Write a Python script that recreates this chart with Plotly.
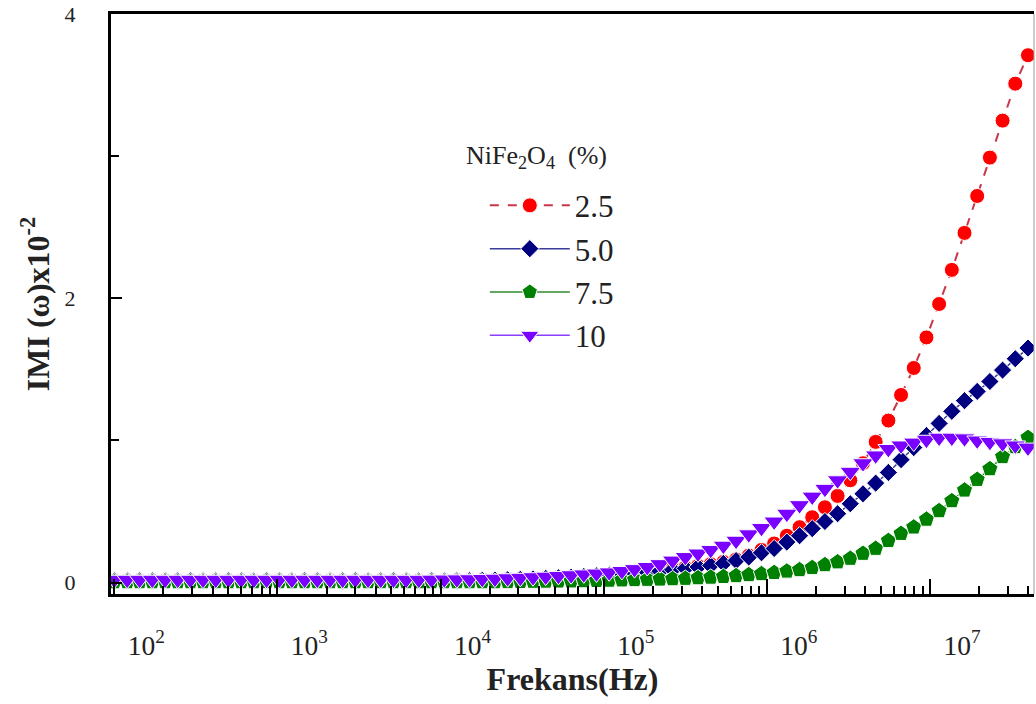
import plotly.graph_objects as go

# Frequency sweep (Hz)
freq = [100, 120, 143, 171, 205, 245, 293, 350, 419, 501,
        600, 717, 858, 1026, 1227, 1468, 1756, 2100, 2512, 3005,
        3594, 4299, 5142, 6151, 7356, 8799, 10525, 12589, 15058, 18012,
        21544, 25771, 30825, 36870, 44102, 52752, 63096, 75470, 90272, 107978,
        129155, 154485, 184785, 221024, 264376, 316228, 378247, 452434, 541170, 647308,
        774264, 926119, 1107756, 1325018, 1584893, 1895740, 2267541, 2712273, 3244226, 3880510,
        4641589, 5551935, 6640873, 7943282, 9501064, 11364637, 13593564, 16259686, 19448624, 23263050,
        27825594, 33282952, 39810717]

labels = ["2.5", "5.0", "7.5", "10"]

imi_25 = [0.015]*27 + [0.016, 0.017, 0.019, 0.021, 0.023, 0.026, 0.029, 0.033, 0.037, 0.041,
                       0.046, 0.051, 0.057, 0.063, 0.07, 0.078, 0.087, 0.097, 0.107, 0.118,
                       0.13, 0.145, 0.163, 0.19, 0.23, 0.275, 0.33, 0.39, 0.46, 0.53,
                       0.61, 0.72, 0.84, 0.99, 1.14, 1.32, 1.51, 1.725, 1.96, 2.20,
                       2.46, 2.72, 2.99, 3.25, 3.51, 3.71]

imi_50 = [0.012]*27 + [0.013, 0.014, 0.016, 0.018, 0.020, 0.023, 0.026, 0.030, 0.034, 0.038,
                       0.043, 0.048, 0.054, 0.060, 0.066, 0.073, 0.080, 0.090, 0.100, 0.110,
                       0.120, 0.135, 0.155, 0.18, 0.21, 0.24, 0.285, 0.33, 0.38, 0.43,
                       0.485, 0.555, 0.625, 0.70, 0.775, 0.865, 0.95, 1.035, 1.12, 1.205,
                       1.28, 1.345, 1.415, 1.495, 1.575, 1.65]

imi_75 = [0.005]*31 + [0.006, 0.007, 0.008, 0.009, 0.010, 0.011, 0.012, 0.014, 0.016,
                       0.018, 0.020, 0.022, 0.024, 0.026, 0.029, 0.033, 0.037, 0.042, 0.048,
                       0.055, 0.062, 0.07, 0.08, 0.09, 0.105, 0.125, 0.145, 0.17, 0.205,
                       0.24, 0.295, 0.345, 0.39, 0.445, 0.505, 0.575, 0.65, 0.725, 0.80,
                       0.885, 0.955, 1.02]

imi_10 = [0.020]*25 + [0.021, 0.022, 0.023, 0.024, 0.026, 0.028, 0.031, 0.034, 0.038, 0.042,
                       0.047, 0.052, 0.058, 0.064, 0.072, 0.082, 0.095, 0.11, 0.13, 0.155,
                       0.18, 0.205, 0.23, 0.26, 0.295, 0.34, 0.385, 0.43, 0.485, 0.545,
                       0.605, 0.66, 0.72, 0.78, 0.84, 0.895, 0.94, 0.965, 0.985, 1.005,
                       1.02, 1.02, 1.015, 1.0, 0.99, 0.98, 0.965, 0.95]

series = [imi_25, imi_50, imi_75, imi_10]
marker_colors = ["#ff0000", "#000080", "#008000", "#7a00ff"]
line_colors = ["#c8374a", "#3c3c9c", "#2f8a2f", "#8a40ff"]
symbols = ["circle", "diamond", "pentagon", "triangle-down"]
sizes = [15, 14, 17, 18]
dashes = ["dash", "solid", "solid", "solid"]

serif = "Liberation Serif, Times New Roman, serif"

fig = go.Figure()
for i in range(4):
    fig.add_trace(go.Scatter(
        x=freq, y=series[i], name=labels[i], mode="lines+markers",
        legendgroup=labels[i],
        line=dict(color=line_colors[i], width=2 if i == 0 else 1.5, dash=dashes[i]),
        marker=dict(symbol=symbols[i], size=sizes[i], color=marker_colors[i],
                    line=dict(color="white", width=1)),
    ))

fig.update_layout(
    width=1036, height=704,
    margin=dict(l=111, r=2, t=14, b=110),
    paper_bgcolor="white", plot_bgcolor="white",
    font=dict(family=serif, color="#222222"),
    showlegend=True,
    legend=dict(x=0.405, y=0.716, xanchor="left", yanchor="top",
                font=dict(family=serif, size=31, color="#222222"),
                bgcolor="rgba(0,0,0,0)", itemwidth=80, tracegroupgap=0),
    xaxis=dict(
        type="log", range=[1.98, 7.637], dtick=1,
        exponentformat="power", showexponent="all",
        ticks="inside", ticklen=15, tickwidth=2, tickcolor="black",
        minor=dict(ticks="inside", ticklen=8, tickwidth=2, tickcolor="black", showgrid=False),
        showline=True, linecolor="black", linewidth=3, mirror=True,
        showgrid=False, zeroline=False,
        tickfont=dict(family=serif, size=22, color="#222222"),
        ticklabelshift=32, ticklabelstandoff=26,
        title=dict(text="<b>Frekans(Hz)</b>", font=dict(family=serif, size=32, color="#222222"),
                   standoff=8),
    ),
    yaxis=dict(
        range=[-0.08, 4.0], tick0=0, dtick=2,
        ticks="inside", ticklen=11, tickwidth=2, tickcolor="black",
        minor=dict(dtick=1, ticks="inside", ticklen=8, tickwidth=2, tickcolor="black", showgrid=False),
        showline=True, linecolor="black", linewidth=3,
        showgrid=False, zeroline=False,
        tickfont=dict(family=serif, size=22, color="#222222"),
        ticklabelstandoff=28,
        title=dict(text="<b>IMI (ω)x10<sup>-2</sup></b>",
                   font=dict(family=serif, size=32, color="#222222"), standoff=6),
    ),
)

fig.add_shape(type="line", xref="paper", yref="paper", x0=1, x1=1, y0=0, y1=1,
              line=dict(color="#9a9a9a", width=1))

fig.add_annotation(text="NiFe<sub>2</sub>O<sub>4</sub>  (%)", xref="paper", yref="paper",
                   x=0.382, y=0.754, xanchor="left", yanchor="middle", showarrow=False,
                   font=dict(family=serif, size=26, color="#222222"))

fig.write_html("out.html")
